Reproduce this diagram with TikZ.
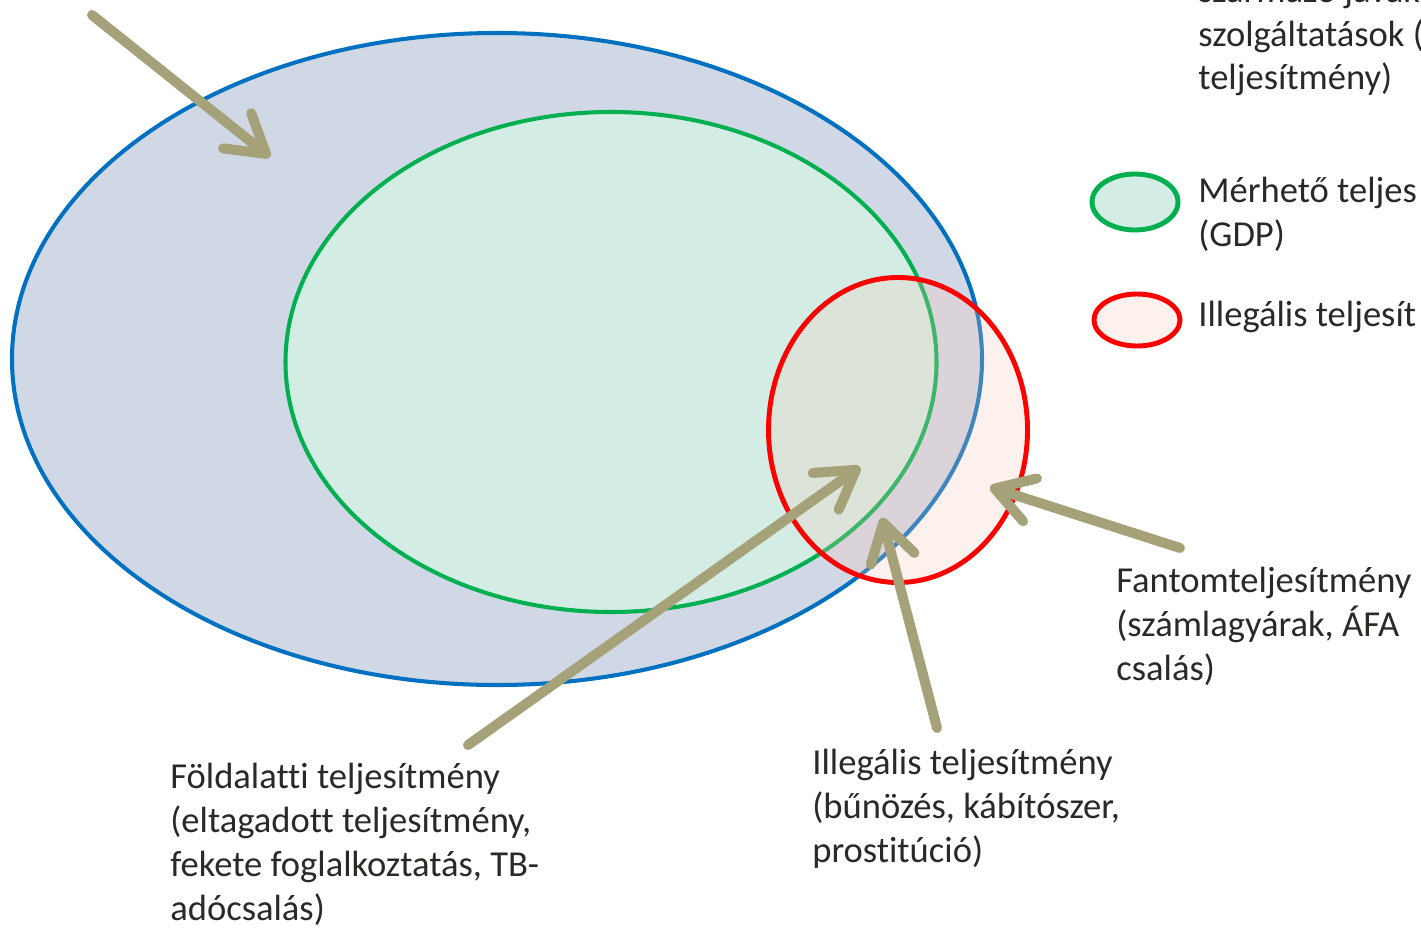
\documentclass[tikz,border=0pt]{standalone}
\usepackage{fontspec}
\setmainfont[Ligatures=CommonOff]{Carlito}
\usepackage{tikz}
\usetikzlibrary{arrows.meta, positioning, shapes.geometric}
\definecolor{outblue}{HTML}{0070C0}
\definecolor{outfill}{HTML}{D0D7E5}
\definecolor{gdpgreen}{HTML}{00B050}
\definecolor{gdpfill}{HTML}{D3EDE4}
\definecolor{illred}{HTML}{FF0000}
\definecolor{illfill}{HTML}{F8C8B8}
\definecolor{pointer}{HTML}{A5A178}
\definecolor{txt}{HTML}{2B2825}

\begin{document}
\begin{tikzpicture}[
  x=0.2mm, y=-0.2mm,
  set/.style={ellipse, draw=#1, inner sep=0pt, line width=2.3pt},
  lab/.style={anchor=base west, align=left, inner sep=0pt, text=txt, font=\fontsize{20.8}{25}\selectfont},
  ptr/.style={draw=pointer, line width=5.7pt, line cap=round, -{Straight Barb[length=7.4mm, width=9mm, round]}}
]
  \useasboundingbox (0,0) rectangle (1421,928);

  % Sets
  \node[set=outblue, fill=outfill, minimum width=194mm, minimum height=130.4mm] (total) at (497,359) {};
  \node[set=gdpgreen, fill=gdpfill, minimum width=130.2mm, minimum height=100mm] (gdp) at (611,362) {};
  \node[set=illred, fill=illfill, fill opacity=0.25, line width=2.8pt, minimum width=51.8mm, minimum height=61mm] (illegal) at (898,430) {};

  % Legend
  \node[set=gdpgreen, fill=gdpfill, line width=2.8pt, minimum width=17.2mm, minimum height=11.2mm] (keygdp) at (1135,202) {};
  \node[set=illred, fill=illfill!25, line width=2.8pt, minimum width=17.2mm, minimum height=10.4mm] (keyill) at (1137,320) {};
  % (base = last line)
  \node[lab] (keytotal) at (1198,90) {származó javak\\szolgáltatások (\\teljesítmény)};
  \node[lab] (keygdptxt) at (1198,246) {Mérhető teljes\\(GDP)};
  \node[lab] (keyilltxt) at (1198,326) {Illegális teljesít};

  % Labels
  \node[lab] (fantom) at (1116,680) {Fantomteljesítmény\\(számlagyárak, ÁFA\\csalás)};
  \node[lab] (under) at (170,920) {Földalatti teljesítmény\\(eltagadott teljesítmény,\\fekete foglalkoztatás, TB-\\adócsalás)};
  \node[lab] (crime) at (812,862) {Illegális teljesítmény\\(bűnözés, kábítószer,\\prostitúció)};

  % Pointers
  \coordinate (p1s) at (92,15);    \coordinate (p1e) at (270,157);
  \coordinate (p2s) at (468,745);  \coordinate (p2e) at (860,467);
  \coordinate (p3s) at (937,728);  \coordinate (p3e) at (882,518);
  \coordinate (p4s) at (1180,548); \coordinate (p4e) at (990,487);
  \draw[ptr] (p1s) -- (p1e);
  \draw[ptr] (p2s) -- (p2e);
  \draw[ptr] (p3s) -- (p3e);
  \draw[ptr] (p4s) -- (p4e);
\end{tikzpicture}
\end{document}
